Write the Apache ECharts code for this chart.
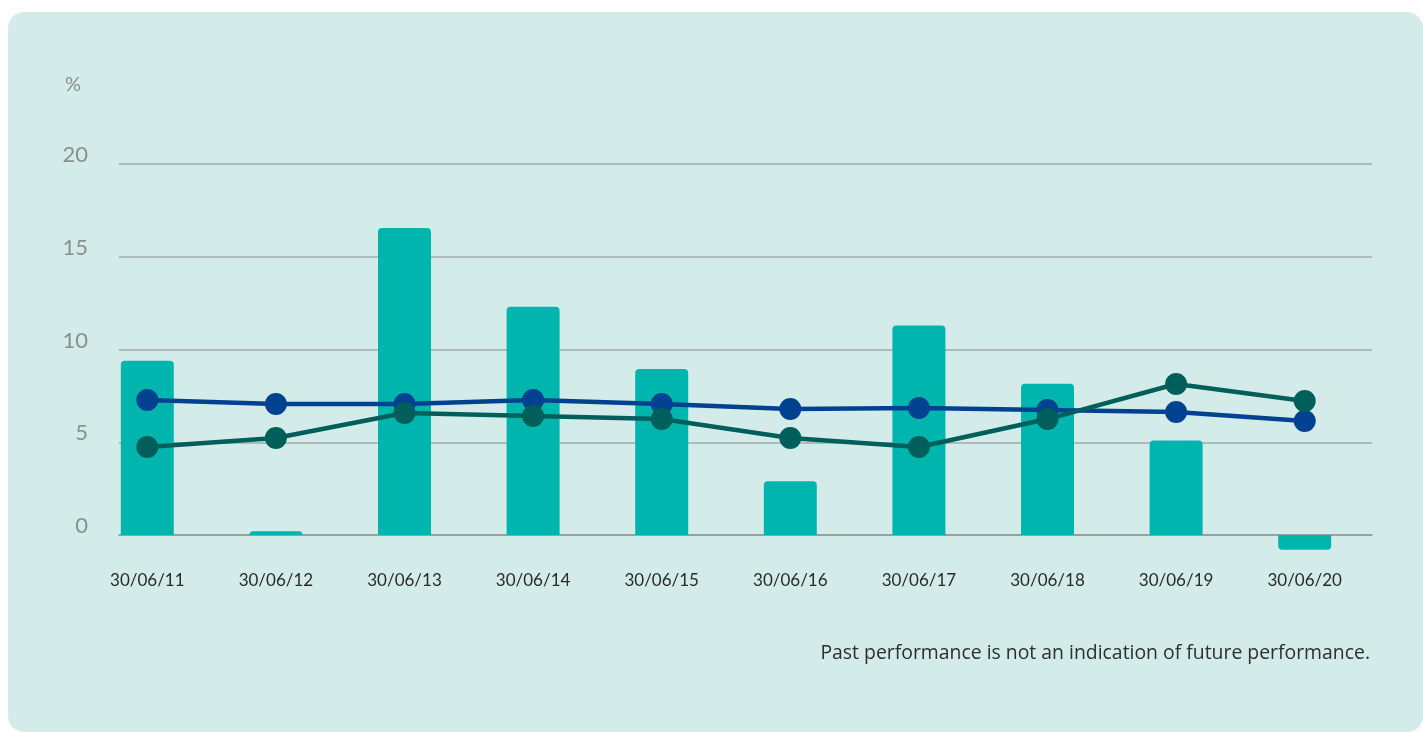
<!DOCTYPE html>
<html>
<head>
<meta charset="utf-8">
<script src="https://cdn.jsdelivr.net/npm/echarts@6/dist/echarts.min.js"></script>
<style>
html,body{margin:0;padding:0;background:#ffffff;width:1423px;height:732px;overflow:hidden;}
#panel{position:absolute;left:8px;top:12px;width:1415px;height:720px;background:#d3ece9;border-radius:16px;}
#chart{position:absolute;left:0;top:0;width:1423px;height:732px;}
</style>
</head>
<body>
<div id="panel"></div>
<div id="chart"></div>
<script>
const categories = ['30/06/11','30/06/12','30/06/13','30/06/14','30/06/15','30/06/16','30/06/17','30/06/18','30/06/19','30/06/20'];
const barValues = [9.4, 0.2, 16.55, 12.3, 8.95, 2.9, 11.3, 8.15, 5.1, -0.8];
const blueValues = [7.28, 7.06, 7.06, 7.28, 7.06, 6.79, 6.85, 6.74, 6.63, 6.15];
const greenValues = [4.74, 5.23, 6.58, 6.42, 6.25, 5.23, 4.74, 6.25, 8.14, 7.22];
const yTicks = [0, 5, 10, 15, 20];

const FONT = 'Lato';
const chart = echarts.init(document.getElementById('chart'), null, {renderer: 'canvas'});

const barData = barValues.map(v => ({
  value: v,
  itemStyle: {borderRadius: v < 0 ? [0, 0, 4, 4] : [4, 4, 0, 0]}
}));

chart.setOption({
  backgroundColor: 'transparent',
  animation: false,
  graphic: [{
    type: 'text', left: 65, top: 75,
    style: {text: '%', fill: '#8a9090', font: '20px ' + FONT}
  }, {
    type: 'text', right: 53, top: 644,
    style: {text: 'Past performance is not an indication of future performance.', fill: '#2b3030', font: '19.4px "Open Sans"', textAlign: 'right'}
  }],
  grid: [
    {left: 83, right: 54, top: 164, bottom: 104.25},
    {left: 119, right: 51, top: 164, bottom: 197}
  ],
  xAxis: [{
    type: 'category', gridIndex: 0, data: categories, position: 'bottom', offset: -92,
    axisLine: {show: false},
    axisTick: {show: false},
    axisLabel: {color: '#2a2a2a', fontFamily: FONT, fontSize: 17, margin: 36}
  }, {
    type: 'value', gridIndex: 1, min: 0, max: 1,
    axisLine: {show: true, lineStyle: {color: '#8f9898', width: 1.5}},
    axisTick: {show: false}, axisLabel: {show: false}, splitLine: {show: false}
  }],
  yAxis: [{
    type: 'value', gridIndex: 0, min: -5, max: 20,
    axisLine: {show: false}, axisTick: {show: false}, axisLabel: {show: false}, splitLine: {show: false}
  }, {
    type: 'value', gridIndex: 1, min: yTicks[0], max: yTicks[yTicks.length - 1], interval: 5,
    axisLine: {show: false}, axisTick: {show: false},
    axisLabel: {color: '#8a9090', fontFamily: FONT, fontSize: 22, margin: 31, verticalAlign: 'bottom', lineHeight: 18},
    splitLine: {show: true, lineStyle: {color: '#a3abab', width: 1.5}}
  }],
  series: [{
    type: 'bar', xAxisIndex: 0, yAxisIndex: 0, data: barData,
    barWidth: 53, itemStyle: {color: '#00b5ad'}, z: 2
  }, {
    type: 'line', xAxisIndex: 0, yAxisIndex: 0, data: blueValues,
    symbol: 'circle', symbolSize: 22,
    lineStyle: {color: '#00428f', width: 4.5},
    itemStyle: {color: '#00428f'}, z: 3
  }, {
    type: 'line', xAxisIndex: 0, yAxisIndex: 0, data: greenValues,
    symbol: 'circle', symbolSize: 22,
    lineStyle: {color: '#005f5b', width: 4.5},
    itemStyle: {color: '#005f5b'}, z: 4
  }]
});
</script>
</body>
</html>
